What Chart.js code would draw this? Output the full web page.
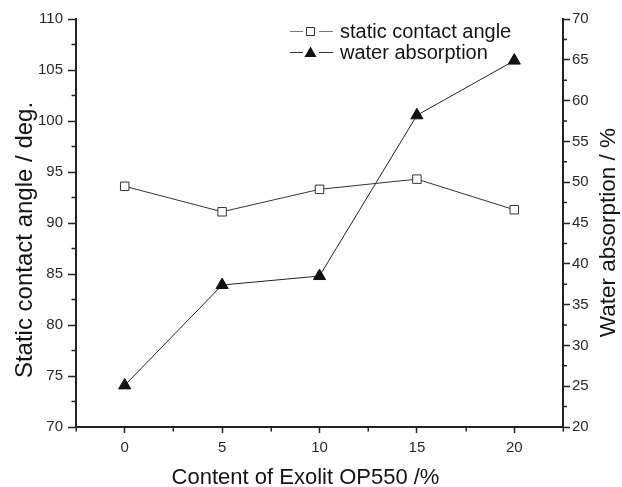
<!DOCTYPE html>
<html>
<head>
<meta charset="utf-8">
<style>
  html, body { margin: 0; padding: 0; background: #ffffff; }
  canvas { display: block; }
</style>
<script src="https://cdn.jsdelivr.net/npm/chart.js@4/dist/chart.umd.min.js"></script>
</head>
<body>
<canvas id="c" width="622" height="487"></canvas>
<script>
// ---- data ----
const contents = [0, 5, 10, 15, 20];
const contactAngle = [93.6, 91.1, 93.3, 94.3, 91.3];
const waterAbsorption = [25.1, 37.4, 38.5, 58.2, 64.9];
const seriesNames = ['static contact angle', 'water absorption'];
const xTitle = 'Content of Exolit OP550 /%';
const yLeftTitle = 'Static contact angle / deg.';
const yRightTitle = 'Water absorption / %';

const FONT = '"Liberation Sans", Arial, Helvetica, sans-serif';
const AXIS = '#222222';
const TICKTXT = '#2a2a2a';

const isMajor = v => Math.abs(v / 5 - Math.round(v / 5)) < 1e-6;

const minorTicks = {
  id: 'minorTicks',
  afterDraw(chart) {
    const ctx = chart.ctx;
    ctx.save();
    ctx.strokeStyle = AXIS;
    ctx.lineWidth = 1.5;
    const xs = chart.scales.x, yl = chart.scales.y, yr = chart.scales.y1;
    ctx.beginPath();
    xs.ticks.forEach(t => {
      if (!isMajor(t.value)) {
        const p = Math.round(xs.getPixelForValue(t.value)) + 0.25;
        ctx.moveTo(p, xs.top); ctx.lineTo(p, xs.top + 4.5);
      }
    });
    yl.ticks.forEach(t => {
      if (!isMajor(t.value)) {
        const p = yl.getPixelForValue(t.value);
        ctx.moveTo(yl.right, p); ctx.lineTo(yl.right - 4.5, p);
      }
    });
    yr.ticks.forEach(t => {
      if (!isMajor(t.value)) {
        const p = yr.getPixelForValue(t.value);
        ctx.moveTo(yr.left, p); ctx.lineTo(yr.left + 4, p);
      }
    });
    ctx.stroke();
    ctx.restore();
  }
};

const titlesAndLegend = {
  id: 'titlesAndLegend',
  afterDraw(chart) {
    const ctx = chart.ctx;
    ctx.save();
    ctx.fillStyle = '#141414';
    ctx.textBaseline = 'alphabetic';
    // x title
    ctx.font = '22px ' + FONT;
    ctx.textAlign = 'center';
    ctx.fillText(xTitle, 305.5, 484);
    // left title
    ctx.save();
    ctx.translate(32, 240);
    ctx.rotate(-Math.PI / 2);
    ctx.font = '24px ' + FONT;
    ctx.fillText(yLeftTitle, 0, 0);
    ctx.restore();
    // right title
    ctx.save();
    ctx.translate(615, 232.5);
    ctx.rotate(-Math.PI / 2);
    ctx.font = '22.5px ' + FONT;
    ctx.fillText(yRightTitle, 0, 0);
    ctx.restore();

    // legend
    const rows = [31, 52];
    const baselines = [37.5, 59];
    chart.data.datasets.forEach((ds, i) => {
      const y = rows[i];
      ctx.strokeStyle = i === 0 ? '#777777' : '#333333';
      ctx.lineWidth = 1;
      ctx.beginPath();
      ctx.moveTo(290, y + 0.5); ctx.lineTo(303, y + 0.5);
      ctx.moveTo(319, y + 0.5); ctx.lineTo(333, y + 0.5);
      ctx.stroke();
      ctx.beginPath();
      if (ds.pointStyle === 'rect') {
        ctx.fillStyle = ds.pointBackgroundColor;
        ctx.strokeStyle = ds.pointBorderColor;
        ctx.rect(306.5, y - 3.5, 8, 8);
        ctx.fill(); ctx.stroke();
      } else {
        ctx.fillStyle = ds.pointBackgroundColor;
        const r = ds.pointRadius, cx = 310.5, cy = y + 1.5;
        ctx.moveTo(cx, cy - r);
        ctx.lineTo(cx + r * Math.sin(2 * Math.PI / 3), cy - r * Math.cos(2 * Math.PI / 3));
        ctx.lineTo(cx + r * Math.sin(4 * Math.PI / 3), cy - r * Math.cos(4 * Math.PI / 3));
        ctx.closePath();
        ctx.fill();
      }
      ctx.fillStyle = '#141414';
      ctx.font = '20px ' + FONT;
      ctx.textAlign = 'left';
      ctx.fillText(seriesNames[i], 340, baselines[i]);
    });
    ctx.restore();
  }
};

const tickCb = v => (isMajor(v) ? String(Math.round(v)) : '');
const tickColorFn = c => (c.tick && isMajor(c.tick.value) ? AXIS : 'rgba(0,0,0,0)');

function axis(extra) {
  return Object.assign({
    type: 'linear',
    ticks: {
      stepSize: 2.5, autoSkip: false, maxTicksLimit: 100, maxRotation: 0,
      color: TICKTXT, font: { size: 15, family: FONT }, callback: tickCb
    },
    grid: { drawOnChartArea: false, tickWidth: 1.5, tickColor: tickColorFn },
    border: { color: AXIS, width: 2 }
  }, extra);
}

const xAxis = axis({ min: -2.5, max: 22.5, position: 'bottom', afterFit: s => { s.height = 60; } });
xAxis.ticks.padding = 6; xAxis.grid.tickLength = 6;
const yAxis = axis({ min: 70, max: 110, position: 'left', afterFit: s => { s.width = 76; } });
yAxis.ticks.padding = 5; yAxis.grid.tickLength = 8;
const y1Axis = axis({ min: 20, max: 70, position: 'right', afterFit: s => { s.width = 59; } });
y1Axis.ticks.padding = 2; y1Axis.grid.tickLength = 7;

new Chart(document.getElementById('c'), {
  type: 'line',
  data: {
    datasets: [
      {
        label: seriesNames[0],
        data: contents.map((x, i) => ({ x, y: contactAngle[i] })),
        yAxisID: 'y',
        borderColor: '#333333', borderWidth: 1,
        pointStyle: 'rect', pointRadius: 6, pointHoverRadius: 6,
        pointBackgroundColor: '#ffffff', pointBorderColor: '#333333', pointBorderWidth: 1,
        tension: 0, fill: false
      },
      {
        label: seriesNames[1],
        data: contents.map((x, i) => ({ x, y: waterAbsorption[i] })),
        yAxisID: 'y1',
        borderColor: '#222222', borderWidth: 1,
        pointStyle: 'triangle', pointRadius: 7, pointHoverRadius: 7,
        pointBackgroundColor: '#111111', pointBorderColor: '#111111', pointBorderWidth: 1,
        tension: 0, fill: false
      }
    ]
  },
  options: {
    responsive: false,
    devicePixelRatio: 1,
    animation: false,
    layout: { padding: { top: 19, left: 0, right: 0, bottom: 0 } },
    plugins: { legend: { display: false }, tooltip: { enabled: false }, title: { display: false } },
    scales: { x: xAxis, y: yAxis, y1: y1Axis }
  },
  plugins: [minorTicks, titlesAndLegend]
});
</script>
</body>
</html>
